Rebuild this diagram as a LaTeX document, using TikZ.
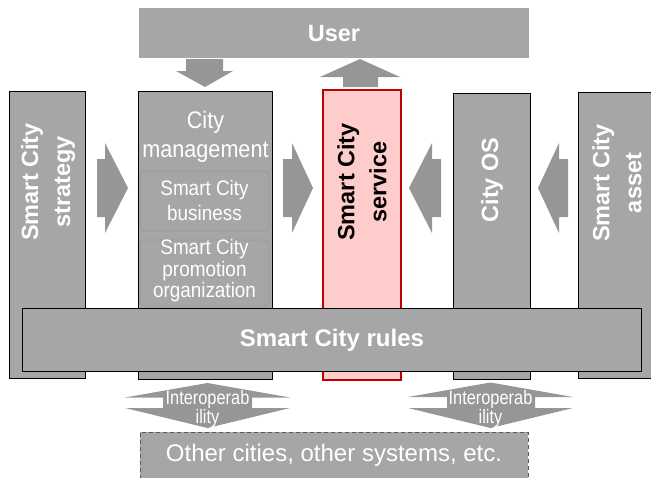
\documentclass[tikz,border=0pt]{standalone}
\usepackage{fontspec}
\setmainfont{Liberation Sans}
\usetikzlibrary{fit}

\definecolor{boxgray}{HTML}{A6A6A6}
\definecolor{arrowgray}{HTML}{969696}
\definecolor{innerline}{HTML}{999999}
\definecolor{servicefill}{HTML}{FFCCCC}
\definecolor{servicered}{HTML}{C00000}
\definecolor{dashline}{HTML}{595959}

% horizontally condensed line of text
\newcommand{\narrowline}[2][0.9]{\scalebox{#1}[1]{#2}}

\begin{document}
\begin{tikzpicture}[x=1pt,y=-1pt,
  pillar/.style={draw=black, line width=1.3pt, fill=boxgray, inner sep=0pt},
  servicepillar/.style={draw=servicered, line width=2.4pt, fill=servicefill, inner sep=0pt},
  flatbox/.style={fill=boxgray, inner sep=0pt},
  subbox/.style={draw=innerline, line width=0.8pt, fill=boxgray, rounded corners=4pt, inner sep=0pt},
  blockarrow/.style={fill=arrowgray},
  boldlabel/.style={text=white, font=\fontsize{23.5}{32}\selectfont\bfseries, align=center, inner sep=0pt},
  vlabel/.style={boldlabel, rotate=90},
  plainlabel/.style={text=white, align=center, inner sep=0pt},
]
\useasboundingbox (0,0) rectangle (651,477);
\clip (0,0) rectangle (651,477);

% top box
\node[flatbox, fit={(139,8) (529,58)}] (user) {};
\node[boldlabel, font=\fontsize{23.5}{23.5}\selectfont\bfseries] (userlabel) at (334,33.5) {User};

% vertical pillars
\node[pillar, fit={(9.7,91.7) (85.5,378.3)}] (strategy) {};
\node[pillar, fit={(138.7,91.7) (272.3,379.3)}] (mgmt) {};
\node[servicepillar, fit={(323.2,90.2) (400.8,379.8)}] (service) {};
\node[pillar, fit={(453.7,93.7) (530.3,379.3)}] (cityos) {};
\node[pillar, fit={(578.7,92.7) (662,378.3)}] (asset) {};

% parts of city management
\node[subbox, fit={(140,171) (269,231)}] (business) {};
\node[subbox, fit={(140,240) (269,306)}] (promotion) {};

% rules band across the pillars
\node[pillar, fit={(22.7,308.7) (641.3,371.3)}] (rules) {};

% outside systems
\node[fill=boxgray, draw=dashline, dash pattern=on 4pt off 3pt, line width=1pt,
      inner sep=0pt, fit={(140,432) (528,495)}] (others) {};

% block arrows between the pillars
\fill[blockarrow] (97,159) -- (105,159) -- (105,143) -- (128,188) -- (105,233) -- (105,217) -- (97,217) -- cycle;
\fill[blockarrow] (283,159) -- (292,159) -- (292,143) -- (313,188) -- (292,233) -- (292,217) -- (283,217) -- cycle;
\fill[blockarrow] (441,159) -- (432,159) -- (432,143) -- (409,188) -- (432,233) -- (432,217) -- (441,217) -- cycle;
\fill[blockarrow] (568,159) -- (559,159) -- (559,143) -- (538,188) -- (559,233) -- (559,217) -- (568,217) -- cycle;

% user <-> pillars
\fill[blockarrow] (186,59) -- (223,59) -- (223,71) -- (233,71) -- (205,87) -- (176,71) -- (186,71) -- cycle;
\fill[blockarrow] (343,87) -- (378,87) -- (378,77) -- (400,77) -- (360,59) -- (320,77) -- (343,77) -- cycle;

% interoperability double arrows
\fill[blockarrow] (207.5,383) -- (290,397.5) -- (252,397.5) -- (252,408) -- (290,408) -- (207.5,428)
   -- (125,408) -- (163,408) -- (163,397.5) -- (125,397.5) -- cycle;
\fill[blockarrow] (490.5,382.5) -- (573,397) -- (535,397) -- (535,408) -- (573,408) -- (490.5,428)
   -- (408,408) -- (447,408) -- (447,397) -- (408,397) -- cycle;

% labels
\node[vlabel] (strategylabel) at (48,182) {Smart City\\strategy};
\node[vlabel, text=black] (servicelabel) at (362,182) {Smart City\\service};
\node[vlabel] (oslabel) at (492,180) {City OS};
\node[vlabel] (assetlabel) at (617,183) {Smart City\\asset};

\node[plainlabel, font=\fontsize{24}{29}\selectfont] (mgmtlabel) at (205.5,136.5)
  {\narrowline{City}\\\narrowline{management}};
\node[plainlabel, font=\fontsize{21}{25}\selectfont] (businesslabel) at (204.5,200)
  {\narrowline{Smart City}\\\narrowline{business}};
\node[plainlabel, font=\fontsize{21}{21.5}\selectfont] (promotionlabel) at (204.5,271)
  {\narrowline{Smart City}\\\narrowline{promotion}\\\narrowline{organization}};

\node[boldlabel, font=\fontsize{24}{24}\selectfont\bfseries] (ruleslabel) at (332,340.5) {Smart City rules};

\node[plainlabel, font=\fontsize{19.5}{19}\selectfont] (interopA) at (207.5,408.5)
  {\narrowline[0.84]{Interoperab}\\\narrowline[0.84]{ility}};
\node[plainlabel, font=\fontsize{19.5}{19}\selectfont] (interopB) at (490.5,408.5)
  {\narrowline[0.84]{Interoperab}\\\narrowline[0.84]{ility}};

\node[plainlabel, font=\fontsize{24}{24}\selectfont] (otherslabel) at (334,455) {Other cities, other systems, etc.};
\end{tikzpicture}
\end{document}
